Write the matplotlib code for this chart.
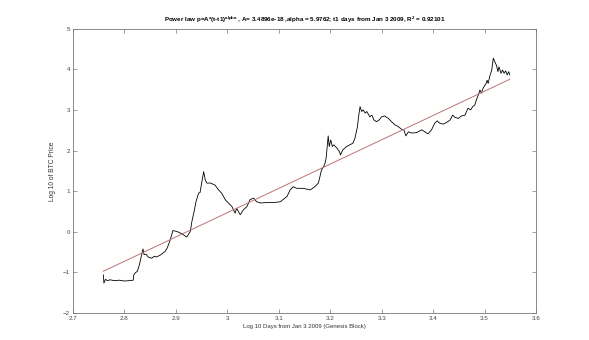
import matplotlib
matplotlib.use('Agg')
import matplotlib.pyplot as plt
import numpy as np

# log10 days since Jan 3 2009 and log10 BTC price
log_days = [2.759, 2.760, 2.763, 2.767, 2.772, 2.780, 2.790, 2.800, 2.810, 2.817,
            2.818, 2.821, 2.825, 2.829, 2.833, 2.836, 2.838, 2.842, 2.846, 2.853,
            2.858, 2.862, 2.870, 2.879, 2.883, 2.889, 2.894, 2.902, 2.912, 2.921,
            2.928, 2.931, 2.936, 2.939, 2.944, 2.947, 2.950, 2.954, 2.957, 2.960,
            2.967, 2.976, 2.983, 2.989, 2.996, 3.002, 3.009, 3.015, 3.018, 3.025,
            3.031, 3.038, 3.044, 3.051, 3.057, 3.064, 3.077, 3.090, 3.103, 3.116,
            3.122, 3.128, 3.135, 3.148, 3.161, 3.170, 3.177, 3.183, 3.187, 3.190,
            3.192, 3.196, 3.198, 3.201, 3.204, 3.207, 3.213, 3.218, 3.220, 3.224,
            3.232, 3.238, 3.244, 3.248, 3.253, 3.255, 3.258, 3.261, 3.264, 3.268,
            3.271, 3.277, 3.281, 3.285, 3.290, 3.295, 3.300, 3.306, 3.313, 3.319,
            3.326, 3.332, 3.339, 3.343, 3.347, 3.352, 3.358, 3.368, 3.378, 3.384,
            3.390, 3.397, 3.403, 3.408, 3.413, 3.420, 3.426, 3.433, 3.438, 3.442,
            3.449, 3.455, 3.462, 3.465, 3.468, 3.473, 3.477, 3.481, 3.484, 3.488,
            3.491, 3.494, 3.497, 3.503, 3.505, 3.507, 3.510, 3.514, 3.517, 3.520,
            3.523, 3.526, 3.528, 3.532, 3.535, 3.538, 3.541, 3.544, 3.547, 3.549]
log_price = [-1.06, -1.26, -1.17, -1.20, -1.18, -1.20, -1.19, -1.21, -1.20, -1.19,
             -1.06, -1.01, -0.97, -0.81, -0.58, -0.42, -0.56, -0.55, -0.62, -0.65,
             -0.60, -0.62, -0.57, -0.48, -0.40, -0.20, 0.03, 0.01, -0.05, -0.13,
             0.01, 0.25, 0.54, 0.74, 0.95, 0.97, 1.20, 1.48, 1.28, 1.20,
             1.20, 1.15, 1.03, 0.95, 0.79, 0.71, 0.62, 0.46, 0.58, 0.42,
             0.54, 0.62, 0.79, 0.83, 0.74, 0.71, 0.72, 0.72, 0.74, 0.87,
             1.03, 1.11, 1.07, 1.07, 1.03, 1.11, 1.20, 1.52, 1.60, 1.69,
             1.81, 2.36, 2.10, 2.26, 2.10, 2.14, 2.06, 1.97, 1.89, 2.01,
             2.10, 2.14, 2.18, 2.30, 2.59, 2.83, 3.08, 2.96, 3.00, 2.92,
             2.96, 2.83, 2.87, 2.75, 2.71, 2.75, 2.83, 2.85, 2.79, 2.71,
             2.63, 2.59, 2.52, 2.51, 2.36, 2.46, 2.43, 2.44, 2.51, 2.46,
             2.41, 2.51, 2.67, 2.73, 2.67, 2.65, 2.69, 2.75, 2.87, 2.82,
             2.79, 2.85, 2.87, 2.96, 3.04, 3.00, 3.08, 3.12, 3.24, 3.37,
             3.49, 3.41, 3.53, 3.65, 3.73, 3.65, 3.82, 3.98, 4.27, 4.18,
             4.10, 3.94, 4.06, 3.90, 3.98, 3.90, 3.96, 3.86, 3.94, 3.86]

# power law fit from the title
A = 3.4896e-18
alpha = 5.9762
R2 = 0.92101

x_ticks = [2.7, 2.8, 2.9, 3.0, 3.1, 3.2, 3.3, 3.4, 3.5, 3.6]
x_ticklabels = ['2.7', '2.8', '2.9', '3', '3.1', '3.2', '3.3', '3.4', '3.5', '3.6']
y_ticks = [-2, -1, 0, 1, 2, 3, 4, 5]

plt.rcParams['font.family'] = ['Liberation Sans', 'DejaVu Sans']
plt.rcParams['mathtext.default'] = 'regular'

fig = plt.figure(figsize=(5.89, 3.40), dpi=100)
ax = fig.add_axes([0.124, 0.079, 0.786, 0.837])

x = np.array(log_days)
ax.plot(x, log_price, color='black', linewidth=0.6)
fit_x = np.array([x[0], x[-1]])
ax.plot(fit_x, np.log10(A) + alpha * fit_x, color='#c07272', linewidth=0.7)

ax.set_xlim(2.7, 3.6)
ax.set_ylim(-2, 5)
ax.set_xticks(x_ticks)
ax.set_xticklabels(x_ticklabels)
ax.set_yticks(y_ticks)

axis_gray = '#777777'
for s in ax.spines.values():
    s.set_color(axis_gray)
    s.set_linewidth(0.6)
ax.tick_params(direction='in', length=3, width=0.5, colors=axis_gray,
               labelcolor='#444444', labelsize=4.5, top=True, right=True, pad=2)

ax.set_xlabel('Log 10 Days from Jan 3 2009 (Genesis Block)', fontsize=4.3, color='#333333', labelpad=2)
ax.set_ylabel('Log 10 of BTC Price', fontsize=4.8, color='#333333', labelpad=5)
ax.set_title('Power law p=A*(t-t1)$^{alpha}$ , A= 3.4896e-18 ,alpha = 5.9762; '
             't1 days from Jan 3 2009, R$^{2}$ = 0.92101',
             fontsize=4.5, fontweight='bold', pad=5)

fig.savefig('out.png', dpi=100)
